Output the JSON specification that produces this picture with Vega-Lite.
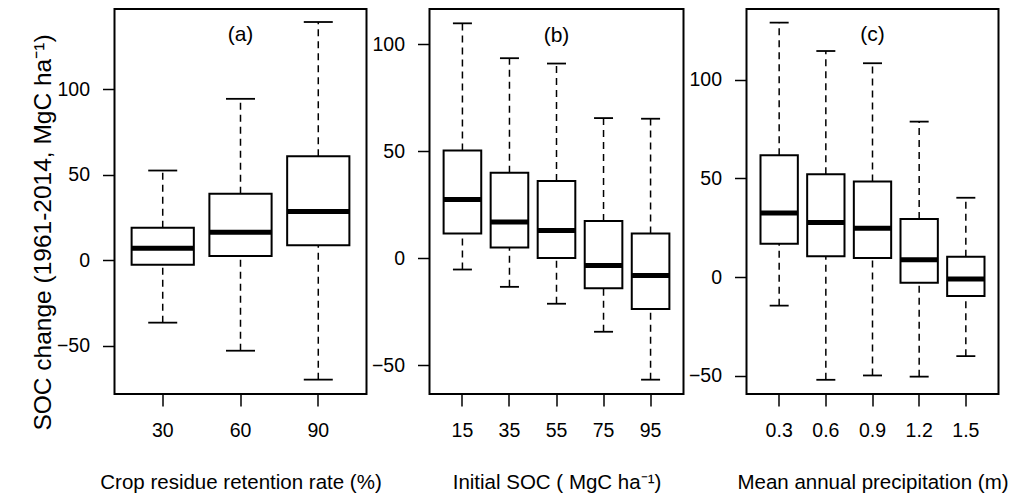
{
  "$schema": "https://vega.github.io/schema/vega-lite/v6.json",
  "background": "white",
  "padding": {"left": 28.5, "top": 8, "right": 5, "bottom": 5},
  "bounds": "flush",
  "spacing": 63,
  "config": {
    "font": "Liberation Sans",
    "view": {"stroke": "black", "strokeWidth": 2},
    "axis": {
      "grid": false, "domain": false, "tickColor": "black", "tickWidth": 1.5, "tickSize": 12,
      "labelFont": "Liberation Sans", "labelFontSize": 19.5, "labelColor": "black",
      "titleFont": "Liberation Sans", "titleFontSize": 20.5, "titleFontWeight": "normal", "titleColor": "black"
    },
    "axisX": {"labelAngle": 0, "labelPadding": 15, "titlePadding": 33},
    "axisY": {"labelPadding": 13}
  },
  "datasets": {
    "a": [
      {"cat": "30", "lower": -36.5, "q1": -2.7, "median": 7.0, "q3": 18.9, "upper": 52.4},
      {"cat": "60", "lower": -52.9, "q1": 2.5, "median": 16.4, "q3": 38.9, "upper": 94.3},
      {"cat": "90", "lower": -69.8, "q1": 8.8, "median": 28.4, "q3": 60.8, "upper": 139.2}
    ],
    "b": [
      {"cat": "15", "lower": -5.3, "q1": 11.5, "median": 27.4, "q3": 50.3, "upper": 109.8},
      {"cat": "35", "lower": -13.4, "q1": 5.0, "median": 16.9, "q3": 40.0, "upper": 93.5},
      {"cat": "55", "lower": -21.3, "q1": 0.1, "median": 12.9, "q3": 36.1, "upper": 91.0},
      {"cat": "75", "lower": -34.4, "q1": -14.1, "median": -3.4, "q3": 17.4, "upper": 65.5},
      {"cat": "95", "lower": -56.8, "q1": -23.8, "median": -8.1, "q3": 11.5, "upper": 65.2}
    ],
    "c": [
      {"cat": "0.3", "lower": -14.5, "q1": 16.9, "median": 32.5, "q3": 61.7, "upper": 129.0},
      {"cat": "0.6", "lower": -52.1, "q1": 10.6, "median": 27.7, "q3": 52.1, "upper": 114.6},
      {"cat": "0.9", "lower": -49.9, "q1": 9.6, "median": 24.8, "q3": 48.5, "upper": 108.4},
      {"cat": "1.2", "lower": -50.5, "q1": -2.9, "median": 8.8, "q3": 29.4, "upper": 78.8},
      {"cat": "1.5", "lower": -40.1, "q1": -9.6, "median": -1.0, "q3": 10.3, "upper": 40.2}
    ],
    "la": [{"cat": "60", "v": 131.8, "label": "(a)"}],
    "lb": [{"cat": "55", "v": 104.0, "label": "(b)"}],
    "lc": [{"cat": "0.9", "v": 122.7, "label": "(c)"}]
  },
  "hconcat": [
    {
      "width": 252, "height": 385,
      "encoding": {
        "x": {"field": "cat", "type": "ordinal", "sort": null, "scale": {"paddingInner": 0.2, "paddingOuter": 0.22},
              "axis": {"title": "Crop residue retention rate (%)"}}
      },
      "layer": [
        {"data": {"name": "a"}, "mark": {"type": "rule", "color": "black", "strokeWidth": 1.5, "strokeDash": [7, 5]},
         "encoding": {"y": {"field": "q3", "type": "quantitative", "scale": {"domain": [-78.2, 146.8], "nice": false, "zero": false},
                            "axis": {"title": "SOC change (1961-2014, MgC ha⁻¹)", "values": [-50, 0, 50, 100], "titleFontSize": 24.5,
                                     "titleX": -64, "titleY": 223, "titleAlign": "center", "titleBaseline": "alphabetic", "titleAngle": -90}},
                      "y2": {"field": "upper"}}},
        {"data": {"name": "a"}, "mark": {"type": "rule", "color": "black", "strokeWidth": 1.5, "strokeDash": [7, 5]},
         "encoding": {"y": {"field": "lower", "type": "quantitative"}, "y2": {"field": "q1"}}},
        {"data": {"name": "a"}, "mark": {"type": "bar", "fill": "white", "stroke": "black", "strokeWidth": 2},
         "encoding": {"y": {"field": "q1", "type": "quantitative"}, "y2": {"field": "q3"}}},
        {"data": {"name": "a"}, "mark": {"type": "tick", "color": "black", "opacity": 1, "size": 62, "thickness": 5},
         "encoding": {"y": {"field": "median", "type": "quantitative"}}},
        {"data": {"name": "a"}, "mark": {"type": "tick", "color": "black", "opacity": 1, "size": 29, "thickness": 1.8},
         "encoding": {"y": {"field": "upper", "type": "quantitative"}}},
        {"data": {"name": "a"}, "mark": {"type": "tick", "color": "black", "opacity": 1, "size": 29, "thickness": 1.8},
         "encoding": {"y": {"field": "lower", "type": "quantitative"}}},
        {"data": {"name": "la"}, "mark": {"type": "text", "font": "Liberation Sans", "fontSize": 21, "color": "black", "baseline": "middle"},
         "encoding": {"y": {"field": "v", "type": "quantitative"}, "text": {"field": "label"}}}
      ]
    },
    {
      "width": 254, "height": 385,
      "encoding": {
        "x": {"field": "cat", "type": "ordinal", "sort": null, "scale": {"paddingInner": 0.2, "paddingOuter": 0.3},
              "axis": {"title": "Initial SOC ( MgC ha⁻¹)"}}
      },
      "layer": [
        {"data": {"name": "b"}, "mark": {"type": "rule", "color": "black", "strokeWidth": 1.5, "strokeDash": [7, 5]},
         "encoding": {"y": {"field": "q3", "type": "quantitative", "scale": {"domain": [-63.5, 116.5], "nice": false, "zero": false},
                            "axis": {"title": null, "values": [-50, 0, 50, 100]}},
                      "y2": {"field": "upper"}}},
        {"data": {"name": "b"}, "mark": {"type": "rule", "color": "black", "strokeWidth": 1.5, "strokeDash": [7, 5]},
         "encoding": {"y": {"field": "lower", "type": "quantitative"}, "y2": {"field": "q1"}}},
        {"data": {"name": "b"}, "mark": {"type": "bar", "fill": "white", "stroke": "black", "strokeWidth": 2},
         "encoding": {"y": {"field": "q1", "type": "quantitative"}, "y2": {"field": "q3"}}},
        {"data": {"name": "b"}, "mark": {"type": "tick", "color": "black", "opacity": 1, "size": 37.5, "thickness": 5},
         "encoding": {"y": {"field": "median", "type": "quantitative"}}},
        {"data": {"name": "b"}, "mark": {"type": "tick", "color": "black", "opacity": 1, "size": 19, "thickness": 1.8},
         "encoding": {"y": {"field": "upper", "type": "quantitative"}}},
        {"data": {"name": "b"}, "mark": {"type": "tick", "color": "black", "opacity": 1, "size": 19, "thickness": 1.8},
         "encoding": {"y": {"field": "lower", "type": "quantitative"}}},
        {"data": {"name": "lb"}, "mark": {"type": "text", "font": "Liberation Sans", "fontSize": 21, "color": "black", "baseline": "middle"},
         "encoding": {"y": {"field": "v", "type": "quantitative"}, "text": {"field": "label"}}}
      ]
    },
    {
      "width": 252, "height": 385,
      "encoding": {
        "x": {"field": "cat", "type": "ordinal", "sort": null, "scale": {"paddingInner": 0.2, "paddingOuter": 0.3},
              "axis": {"title": "Mean annual precipitation (m)"}}
      },
      "layer": [
        {"data": {"name": "c"}, "mark": {"type": "rule", "color": "black", "strokeWidth": 1.5, "strokeDash": [7, 5]},
         "encoding": {"y": {"field": "q3", "type": "quantitative", "scale": {"domain": [-59.3, 135.9], "nice": false, "zero": false},
                            "axis": {"title": null, "values": [-50, 0, 50, 100]}},
                      "y2": {"field": "upper"}}},
        {"data": {"name": "c"}, "mark": {"type": "rule", "color": "black", "strokeWidth": 1.5, "strokeDash": [7, 5]},
         "encoding": {"y": {"field": "lower", "type": "quantitative"}, "y2": {"field": "q1"}}},
        {"data": {"name": "c"}, "mark": {"type": "bar", "fill": "white", "stroke": "black", "strokeWidth": 2},
         "encoding": {"y": {"field": "q1", "type": "quantitative"}, "y2": {"field": "q3"}}},
        {"data": {"name": "c"}, "mark": {"type": "tick", "color": "black", "opacity": 1, "size": 37.5, "thickness": 5},
         "encoding": {"y": {"field": "median", "type": "quantitative"}}},
        {"data": {"name": "c"}, "mark": {"type": "tick", "color": "black", "opacity": 1, "size": 19, "thickness": 1.8},
         "encoding": {"y": {"field": "upper", "type": "quantitative"}}},
        {"data": {"name": "c"}, "mark": {"type": "tick", "color": "black", "opacity": 1, "size": 19, "thickness": 1.8},
         "encoding": {"y": {"field": "lower", "type": "quantitative"}}},
        {"data": {"name": "lc"}, "mark": {"type": "text", "font": "Liberation Sans", "fontSize": 21, "color": "black", "baseline": "middle"},
         "encoding": {"y": {"field": "v", "type": "quantitative"}, "text": {"field": "label"}}}
      ]
    }
  ]
}
